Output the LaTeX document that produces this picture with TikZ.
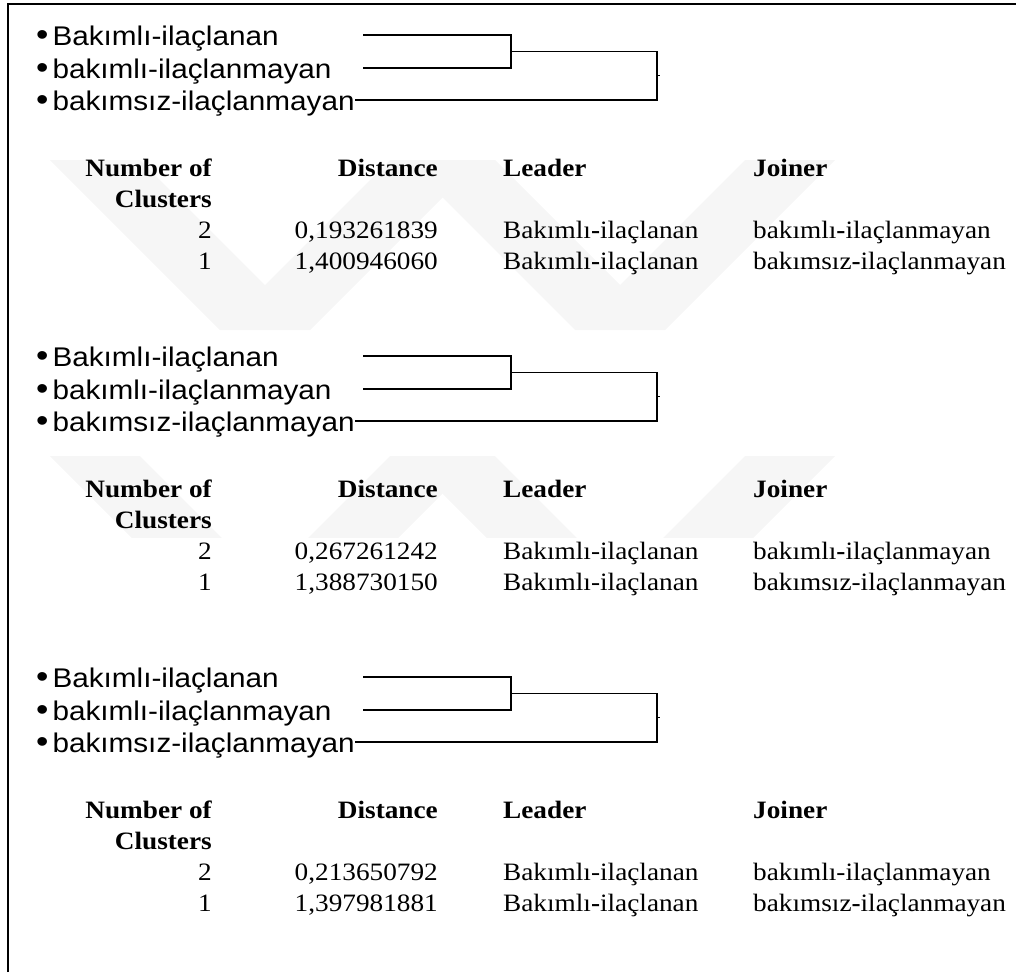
\documentclass[tikz,border=0pt]{standalone}
\usepackage{fontspec}
\setmainfont{Liberation Serif}[FakeStretch=1.09]
\setsansfont{Liberation Sans}[FakeStretch=1.1]
\usetikzlibrary{positioning}

\newcommand{\bh}{\textbf{-}}
\newcommand{\nh}{-}
\newcommand{\dotmark}{{\fontsize{32}{30}\selectfont•}\hspace{4pt}}

\tikzset{
  leaf/.style={anchor=base west, inner sep=0pt, font=\sffamily\fontsize{27}{30}\selectfont},
  head/.style={inner sep=0pt, font=\bfseries\fontsize{25}{30}\selectfont},
  cell/.style={inner sep=0pt, font=\fontsize{25}{30}\selectfont},
  tree/.style={line width=1.3pt},
  wmark/.style={fill=gray!7, draw=none}
}

\begin{document}
\begin{tikzpicture}[x=1pt, y=-1pt]
\useasboundingbox (0,0) rectangle (1016,972);

% watermark
\fill[wmark] (50,160) -- (140,160) -- (265,285) -- (390,160) -- (480,160) -- (310,330) -- (220,330) -- cycle;
\fill[wmark] (405,160) -- (495,160) -- (620,285) -- (745,160) -- (835,160) -- (665,330) -- (575,330) -- cycle;
\begin{scope}
\clip (0,456) rectangle (1016,537);
\fill[wmark] (50,456) -- (140,456) -- (265,581) -- (390,456) -- (480,456) -- (310,626) -- (220,626) -- cycle;
\fill[wmark] (405,456) -- (495,456) -- (620,581) -- (745,456) -- (835,456) -- (665,626) -- (575,626) -- cycle;
\end{scope}

% frame
\coordinate (FB) at (8,972);
\coordinate (FL) at (8,4);
\coordinate (FR) at (1016,4);
\draw[line width=2pt] (FB) -- (FL) -- (FR);

\foreach \off/\dtwo/\done/\la/\ja/\lb/\jb in {0/{0,193261839}/{1,400946060}/\bh/\bh/\bh/\bh,
    321/{0,267261242}/{1,388730150}/\nh/\bh/\nh/\nh,
    642/{0,213650792}/{1,397981881}/\nh/\nh/\bh/\bh}{
\begin{scope}[yshift={-\off pt}]
\node[leaf] (lab1\off) at (36,45.5) {\dotmark Bakımlı-ilaçlanan};
\node[leaf] (lab2\off) at (36,78.5) {\dotmark bakımlı-ilaçlanmayan};
\node[leaf] (lab3\off) at (36,110.5) {\dotmark bakımsız-ilaçlanmayan};

\coordinate (p1\off) at (363,35);
\coordinate (p2\off) at (363,68);
\coordinate (p3\off) at (lab3\off.east |- 0,100);
\coordinate (m\off) at (511,51.5);
\coordinate (r\off) at (657,75.75);

\draw[tree] (p1\off) -| (m\off) |- (p2\off);
\draw[tree] (m\off) -| (r\off) |- (p3\off);
\draw[tree] (r\off) -- ++(3,0);

\node[head, anchor=base east] (num\off) at (212,176) {Number of};
\node[head, anchor=base east] (clu\off) at (212,207) {Clusters};
\node[head, anchor=base east] (dis\off) at (438,176) {Distance};
\node[head, anchor=base west] (lea\off) at (503,176) {Leader};
\node[head, anchor=base west] (joi\off) at (753,176) {Joiner};

\node[cell, anchor=base east] (n2\off) at (212,238) {2};
\node[cell, anchor=base east] (d2\off) at (438,238) {\dtwo};
\node[cell, anchor=base west] (l2\off) at (503,238) {Bakımlı\la ilaçlanan};
\node[cell, anchor=base west] (j2\off) at (753,238) {bakımlı\ja ilaçlanmayan};

\node[cell, anchor=base east] (n1\off) at (212,269) {1};
\node[cell, anchor=base east] (d1\off) at (438,269) {\done};
\node[cell, anchor=base west] (l1\off) at (503,269) {Bakımlı\lb ilaçlanan};
\node[cell, anchor=base west] (j1\off) at (753,269) {bakımsız\jb ilaçlanmayan};
\end{scope}
}

\end{tikzpicture}
\end{document}
